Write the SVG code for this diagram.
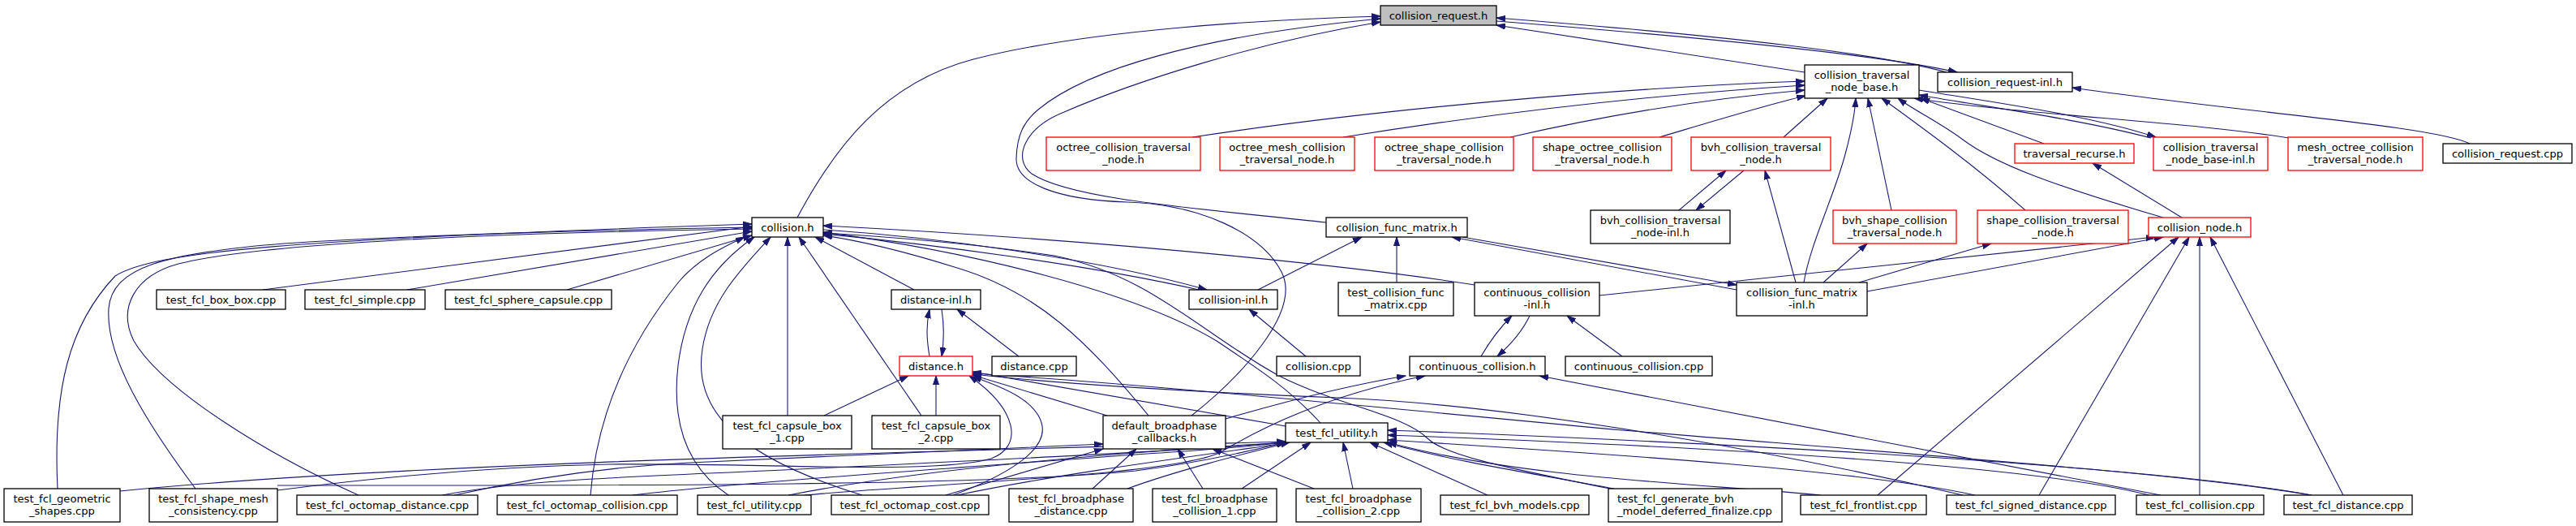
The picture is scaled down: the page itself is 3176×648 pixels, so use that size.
<svg xmlns="http://www.w3.org/2000/svg" width="3176" height="648" viewBox="0 0 3176 648">
<style>
.n rect{fill:#fff;stroke:#000;stroke-width:1.3}
.n.r rect{stroke:#ff0000}
.n.g rect{fill:#bfbfbf}
text{font-family:"DejaVu Sans","Liberation Sans",sans-serif;font-size:13.1px;text-anchor:middle;fill:#000}
.e path{fill:none;stroke:#191970;stroke-width:1.1;marker-end:url(#ah)}
</style>
<defs>
<marker id="ah" markerUnits="userSpaceOnUse" markerWidth="12" markerHeight="8" refX="11" refY="4" orient="auto">
<path d="M0,0.5 L11,4 L0,7.5 z" fill="#191970" stroke="#191970" stroke-width="1"/>
</marker>
</defs>
<rect width="3176" height="648" fill="#fff"/>
<g id="edges" class="e">
<path d="M983,268 C1030,180 1090,102 1200,73 C1340,37 1560,24 1702,20"/>
<path d="M1635,274 C1480,257 1320,246 1272,214 C1248,196 1262,158 1312,138 C1400,100 1550,52 1702,27"/>
<path d="M1469,512 C1525,468 1606,385 1580,335 C1555,287 1480,252 1390,249 C1300,246 1252,225 1253,195 C1254,166 1262,150 1280,135 C1340,85 1480,44 1702,23"/>
<path d="M2225,89 L1845,31"/>
<path d="M2400,89 C2320,67 2150,46 1845,22"/>
<path d="M1845,26 C2150,50 2330,70 2413,89"/>
<path d="M3045,177 C3000,155 2760,138 2555,108"/>
<path d="M1470,169 C1700,134 2000,108 2225,100"/>
<path d="M1656,169 C1850,138 2050,116 2225,105"/>
<path d="M1862,169 C1980,142 2100,122 2225,111"/>
<path d="M2046,169 C2110,150 2175,130 2226,118"/>
<path d="M2199,169 L2253,121"/>
<path d="M2520,177 L2368,121"/>
<path d="M2652,170 C2560,146 2450,132 2366,117"/>
<path d="M2366,111 C2470,128 2580,143 2658,169"/>
<path d="M2822,170 C2700,150 2500,142 2360,121"/>
<path d="M2332,259 L2303,121"/>
<path d="M2497,259 C2430,200 2360,150 2320,121"/>
<path d="M2667,268 C2530,228 2460,202 2420,172 C2390,150 2360,136 2340,121"/>
<path d="M2224,348 C2232,300 2262,240 2275,190 C2283,160 2287,140 2288,121"/>
<path d="M2070,259 L2128,210"/>
<path d="M2150,210 L2091,259"/>
<path d="M2214,348 L2176,210"/>
<path d="M2690,268 L2580,201"/>
<path d="M2248,348 L2302,300"/>
<path d="M2292,348 L2455,300"/>
<path d="M2302,359 L2667,292"/>
<path d="M1972,364 L2657,292"/>
<path d="M2315,610 L2686,292"/>
<path d="M2514,610 L2699,292"/>
<path d="M2712,610 L2712,292"/>
<path d="M2889,610 L2725,292"/>
<path d="M1551,357 L1679,292"/>
<path d="M1722,348 L1722,292"/>
<path d="M1803,292 L2141,351"/>
<path d="M2141,357 L1790,292"/>
<path d="M1015,283 C1150,292 1350,318 1488,357"/>
<path d="M1478,357 C1340,326 1150,301 1015,288"/>
<path d="M1610,439 L1540,381"/>
<path d="M1818,351 C1700,332 1400,298 1015,278"/>
<path d="M1826,439 C1840,415 1853,400 1864,389"/>
<path d="M1886,389 C1876,410 1862,425 1846,439"/>
<path d="M2000,439 L1932,389"/>
<path d="M2664,610 L1898,463"/>
<path d="M1511,516 C1600,490 1680,472 1733,463"/>
<path d="M992,610 C1150,596 1450,585 1505,557 C1550,530 1630,488 1757,463"/>
<path d="M324,357 L927,279"/>
<path d="M502,357 L927,285"/>
<path d="M699,357 L927,290"/>
<path d="M71,602 C65,480 85,400 142,340 C190,310 350,295 927,276"/>
<path d="M241,602 C180,520 130,440 134,380 C138,330 200,312 350,300 C500,290 750,283 927,280"/>
<path d="M442,610 C330,560 200,480 165,420 C145,380 165,340 220,325 C320,300 600,287 927,282"/>
<path d="M728,610 C735,520 770,430 837,347 C860,320 890,305 918,292"/>
<path d="M898,610 C845,575 828,520 836,450 C845,380 875,330 930,292"/>
<path d="M1063,610 C900,560 855,500 866,430 C875,370 915,330 950,292"/>
<path d="M971,512 L971,292"/>
<path d="M1136,512 L985,292"/>
<path d="M1127,357 L1005,292"/>
<path d="M1416,512 C1340,420 1280,360 1180,330 C1100,305 1050,295 1015,290"/>
<path d="M1628,521 C1590,480 1560,460 1500,420 C1400,360 1200,310 1015,286"/>
<path d="M1985,602 C1850,575 1780,560 1760,540 C1730,510 1650,500 1577,463 C1480,410 1420,340 1300,315 C1200,300 1100,292 1015,287"/>
<path d="M1161,381 C1164,400 1164,420 1161,439"/>
<path d="M1146,439 C1142,415 1142,400 1146,381"/>
<path d="M1256,439 L1180,381"/>
<path d="M1016,512 L1120,463"/>
<path d="M1154,512 L1154,463"/>
<path d="M1365,512 L1199,462"/>
<path d="M1585,525 L1199,458"/>
<path d="M1175,610 C1240,586 1290,556 1285,525 C1280,495 1240,478 1199,464"/>
<path d="M342,604 C450,590 600,575 750,572 C950,570 1150,585 1222,565 C1262,550 1255,505 1195,463"/>
<path d="M2420,610 C2250,570 1900,500 1650,490 C1450,482 1300,472 1199,461"/>
<path d="M2850,610 C2700,585 2450,567 2000,530 C1700,502 1400,472 1199,460"/>
<path d="M148,605 C500,570 1100,558 1585,544"/>
<path d="M342,598 C700,598 1200,600 1400,580 C1480,570 1540,556 1585,545"/>
<path d="M545,610 C620,596 700,590 900,582 C1200,568 1450,556 1585,545"/>
<path d="M560,610 C650,590 750,575 850,570 C1050,562 1250,552 1360,547"/>
<path d="M780,610 C900,595 1200,575 1400,560 C1480,555 1540,550 1585,545"/>
<path d="M972,610 C1100,585 1300,562 1585,545"/>
<path d="M1180,610 C1300,585 1450,565 1585,546"/>
<path d="M1166,610 L1360,553"/>
<path d="M1347,602 L1401,553"/>
<path d="M1390,602 C1450,580 1530,560 1590,545"/>
<path d="M1483,602 L1452,553"/>
<path d="M1531,602 L1616,545"/>
<path d="M1620,602 L1495,553"/>
<path d="M1668,602 L1656,545"/>
<path d="M1834,610 L1689,545"/>
<path d="M1990,602 C1900,585 1800,570 1706,545"/>
<path d="M2245,610 C2100,596 1880,590 1711,545"/>
<path d="M2435,610 C2300,580 2000,560 1711,542"/>
<path d="M2650,610 C2500,572 2100,550 1711,536"/>
<path d="M2850,610 C2700,582 2300,552 1711,530"/>
</g>
<g id="n_req" class="n g"><rect x="1702" y="7" width="143" height="24"/><text x="1773.5" y="23.5">collision_request.h</text></g>
<g id="n_ctnb" class="n"><rect x="2225" y="80" width="141" height="41"/><text x="2295.5" y="97">collision_traversal</text><text x="2295.5" y="111.5">_node_base.h</text></g>
<g id="n_reqinl" class="n"><rect x="2389" y="89" width="166" height="24"/><text x="2472" y="105.5">collision_request-inl.h</text></g>
<g id="n_octc" class="n r"><rect x="1290" y="169" width="190" height="41"/><text x="1385" y="186">octree_collision_traversal</text><text x="1385" y="200.5">_node.h</text></g>
<g id="n_octm" class="n r"><rect x="1504" y="169" width="166" height="41"/><text x="1587" y="186">octree_mesh_collision</text><text x="1587" y="200.5">_traversal_node.h</text></g>
<g id="n_octs" class="n r"><rect x="1695" y="169" width="171" height="41"/><text x="1780.5" y="186">octree_shape_collision</text><text x="1780.5" y="200.5">_traversal_node.h</text></g>
<g id="n_shoct" class="n r"><rect x="1890" y="169" width="171" height="41"/><text x="1975.5" y="186">shape_octree_collision</text><text x="1975.5" y="200.5">_traversal_node.h</text></g>
<g id="n_bvhctn" class="n r"><rect x="2085" y="169" width="172" height="41"/><text x="2171" y="186">bvh_collision_traversal</text><text x="2171" y="200.5">_node.h</text></g>
<g id="n_travrec" class="n r"><rect x="2484" y="177" width="147" height="24"/><text x="2557.5" y="193.5">traversal_recurse.h</text></g>
<g id="n_ctnbinl" class="n r"><rect x="2655" y="169" width="141" height="41"/><text x="2725.5" y="186">collision_traversal</text><text x="2725.5" y="200.5">_node_base-inl.h</text></g>
<g id="n_meshoct" class="n r"><rect x="2821" y="169" width="166" height="41"/><text x="2904" y="186">mesh_octree_collision</text><text x="2904" y="200.5">_traversal_node.h</text></g>
<g id="n_reqcpp" class="n"><rect x="3012" y="177" width="159" height="24"/><text x="3091.5" y="193.5">collision_request.cpp</text></g>
<g id="n_colh" class="n"><rect x="927" y="268" width="88" height="24"/><text x="971" y="284.5">collision.h</text></g>
<g id="n_cfm" class="n"><rect x="1635" y="268" width="174" height="24"/><text x="1722" y="284.5">collision_func_matrix.h</text></g>
<g id="n_bvhinl" class="n"><rect x="1961" y="259" width="172" height="41"/><text x="2047" y="276">bvh_collision_traversal</text><text x="2047" y="290.5">_node-inl.h</text></g>
<g id="n_bvhshape" class="n r"><rect x="2260" y="259" width="152" height="41"/><text x="2336" y="276">bvh_shape_collision</text><text x="2336" y="290.5">_traversal_node.h</text></g>
<g id="n_shapectn" class="n r"><rect x="2438" y="259" width="186" height="41"/><text x="2531" y="276">shape_collision_traversal</text><text x="2531" y="290.5">_node.h</text></g>
<g id="n_colnode" class="n r"><rect x="2649" y="268" width="126" height="24"/><text x="2712" y="284.5">collision_node.h</text></g>
<g id="n_box" class="n"><rect x="193" y="357" width="159" height="24"/><text x="272.5" y="373.5">test_fcl_box_box.cpp</text></g>
<g id="n_simple" class="n"><rect x="376" y="357" width="148" height="24"/><text x="450" y="373.5">test_fcl_simple.cpp</text></g>
<g id="n_sphere" class="n"><rect x="549" y="357" width="205" height="24"/><text x="651.5" y="373.5">test_fcl_sphere_capsule.cpp</text></g>
<g id="n_distinl" class="n"><rect x="1099" y="357" width="110" height="24"/><text x="1154" y="373.5">distance-inl.h</text></g>
<g id="n_colinl" class="n"><rect x="1466" y="357" width="109" height="24"/><text x="1520.5" y="373.5">collision-inl.h</text></g>
<g id="n_tcfm" class="n"><rect x="1650" y="348" width="142" height="41"/><text x="1721" y="365">test_collision_func</text><text x="1721" y="379.5">_matrix.cpp</text></g>
<g id="n_ccinl" class="n"><rect x="1818" y="348" width="154" height="41"/><text x="1895" y="365">continuous_collision</text><text x="1895" y="379.5">-inl.h</text></g>
<g id="n_cfminl" class="n"><rect x="2141" y="348" width="161" height="41"/><text x="2221.5" y="365">collision_func_matrix</text><text x="2221.5" y="379.5">-inl.h</text></g>
<g id="n_disth" class="n r"><rect x="1109" y="439" width="90" height="24"/><text x="1154" y="455.5">distance.h</text></g>
<g id="n_distcpp" class="n"><rect x="1223" y="439" width="104" height="24"/><text x="1275" y="455.5">distance.cpp</text></g>
<g id="n_colcpp" class="n"><rect x="1574" y="439" width="103" height="24"/><text x="1625.5" y="455.5">collision.cpp</text></g>
<g id="n_cch" class="n"><rect x="1738" y="439" width="167" height="24"/><text x="1821.5" y="455.5">continuous_collision.h</text></g>
<g id="n_cccpp" class="n"><rect x="1930" y="439" width="181" height="24"/><text x="2020.5" y="455.5">continuous_collision.cpp</text></g>
<g id="n_cb1" class="n"><rect x="891" y="512" width="159" height="41"/><text x="970.5" y="529">test_fcl_capsule_box</text><text x="970.5" y="543.5">_1.cpp</text></g>
<g id="n_cb2" class="n"><rect x="1075" y="512" width="158" height="41"/><text x="1154" y="529">test_fcl_capsule_box</text><text x="1154" y="543.5">_2.cpp</text></g>
<g id="n_dbc" class="n"><rect x="1360" y="512" width="151" height="41"/><text x="1435.5" y="529">default_broadphase</text><text x="1435.5" y="543.5">_callbacks.h</text></g>
<g id="n_tuh" class="n"><rect x="1585" y="521" width="126" height="24"/><text x="1648" y="537.5">test_fcl_utility.h</text></g>
<g id="n_geo" class="n"><rect x="5" y="602" width="143" height="41"/><text x="76.5" y="619">test_fcl_geometric</text><text x="76.5" y="633.5">_shapes.cpp</text></g>
<g id="n_shmesh" class="n"><rect x="184" y="602" width="158" height="41"/><text x="263" y="619">test_fcl_shape_mesh</text><text x="263" y="633.5">_consistency.cpp</text></g>
<g id="n_octdist" class="n"><rect x="366" y="610" width="223" height="24"/><text x="477.5" y="626.5">test_fcl_octomap_distance.cpp</text></g>
<g id="n_octcol" class="n"><rect x="613" y="610" width="222" height="24"/><text x="724" y="626.5">test_fcl_octomap_collision.cpp</text></g>
<g id="n_tucpp" class="n"><rect x="860" y="610" width="140" height="24"/><text x="930" y="626.5">test_fcl_utility.cpp</text></g>
<g id="n_octcost" class="n"><rect x="1025" y="610" width="194" height="24"/><text x="1122" y="626.5">test_fcl_octomap_cost.cpp</text></g>
<g id="n_bpd" class="n"><rect x="1244" y="602" width="153" height="41"/><text x="1320.5" y="619">test_fcl_broadphase</text><text x="1320.5" y="633.5">_distance.cpp</text></g>
<g id="n_bpc1" class="n"><rect x="1421" y="602" width="153" height="41"/><text x="1497.5" y="619">test_fcl_broadphase</text><text x="1497.5" y="633.5">_collision_1.cpp</text></g>
<g id="n_bpc2" class="n"><rect x="1598" y="602" width="154" height="41"/><text x="1675" y="619">test_fcl_broadphase</text><text x="1675" y="633.5">_collision_2.cpp</text></g>
<g id="n_bvhm" class="n"><rect x="1776" y="610" width="183" height="24"/><text x="1867.5" y="626.5">test_fcl_bvh_models.cpp</text></g>
<g id="n_genbvh" class="n"><rect x="1983" y="602" width="214" height="41"/><text x="1994" y="619" style="text-anchor:start">test_fcl_generate_bvh</text><text x="1994" y="633.5" style="text-anchor:start">_model_deferred_finalize.cpp</text></g>
<g id="n_front" class="n"><rect x="2220" y="610" width="155" height="24"/><text x="2297.5" y="626.5">test_fcl_frontlist.cpp</text></g>
<g id="n_sdist" class="n"><rect x="2400" y="610" width="208" height="24"/><text x="2504" y="626.5">test_fcl_signed_distance.cpp</text></g>
<g id="n_tcol" class="n"><rect x="2634" y="610" width="157" height="24"/><text x="2712.5" y="626.5">test_fcl_collision.cpp</text></g>
<g id="n_tdist" class="n"><rect x="2816" y="610" width="158" height="24"/><text x="2895" y="626.5">test_fcl_distance.cpp</text></g>
</svg>
